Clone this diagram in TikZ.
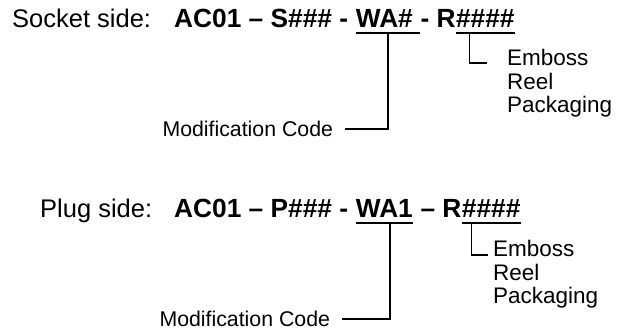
\documentclass[tikz,border=0pt]{standalone}
\usepackage{fontspec}
\setmainfont{Liberation Sans}
\usetikzlibrary{calc}
\tikzset{
  lbl/.style={inner sep=0pt, font=\fontsize{25.5}{30}\selectfont},
  code/.style={inner sep=0pt, anchor=base west, font=\fontsize{26.3}{30}\selectfont\bfseries},
  note/.style={inner sep=0pt, anchor=base west, font=\fontsize{22.5}{24}\selectfont},
  modnote/.style={inner ysep=0pt, inner xsep=0pt, outer xsep=12pt, anchor=east, font=\fontsize{21.3}{24}\selectfont},
  uline/.style={line width=2pt},
  conn/.style={line width=1.3pt},
}
\begin{document}
\begin{tikzpicture}[x=1pt,y=-1pt]
\useasboundingbox (0,0) rectangle (619,334);
% ---------- Socket side ----------
\node[lbl, anchor=base west] (sock) at (12,28) {Socket side:};
\node[code] (s1) at (174,28) {AC01 – S\#\#\# -\ \null};
\node[code] (swa) at (s1.base east) {WA\#\ \null};
\node[code] (s2) at (swa.base east) {- R};
\node[code] (sr) at (s2.base east) {\#\#\#\#};
\coordinate (swaL) at ($(swa.base west)+(0,5.5)$);
\coordinate (swaR) at ($(swa.base east)+(0,5.5)$);
\coordinate (srL) at ($(sr.base west)+(0,5.5)$);
\coordinate (srR) at ($(sr.base east)+(0,5.5)$);
\draw[uline] (swaL) -- (swaR);
\draw[uline] (srL) -- (srR);
\coordinate (swaM) at ($(swaL)!0.5!(swaR)$);
\node[modnote] (smod) at (345,129) {Modification Code};
\draw[conn] (swaM) |- (smod.east);
\node[note] (semb) at (507,66) {Emboss};
\node[note] (sreel) at (507,90) {Reel};
\node[note] (spack) at (507,113) {Packaging};
\coordinate (sbr) at ($(srL)+(14,0)$);
\coordinate (sbrE) at (487,63);
\draw[conn] (sbr) |- (sbrE);
% ---------- Plug side ----------
\node[lbl, anchor=base west] (plug) at (40,218) {Plug side:};
\node[code] (p1) at (174,218) {AC01 – P\#\#\# -\ \null};
\node[code] (pwa) at (p1.base east) {WA1};
\node[code] (p2) at (pwa.base east) {\null\ – R};
\node[code] (pr) at (p2.base east) {\#\#\#\#};
\coordinate (pwaL) at ($(pwa.base west)+(0,5.5)$);
\coordinate (pwaR) at ($(pwa.base east)+(0,5.5)$);
\coordinate (prL) at ($(pr.base west)+(0,5.5)$);
\coordinate (prR) at ($(pr.base east)+(0,5.5)$);
\draw[uline] (pwaL) -- (pwaR);
\draw[uline] (prL) -- (prR);
\coordinate (pwaM) at ($(pwaL)!0.6!(pwaR)$);
\node[modnote] (pmod) at (342,319) {Modification Code};
\draw[conn] (pwaM) |- (pmod.east);
\node[note] (pemb) at (493,256) {Emboss};
\node[note] (preel) at (493,280) {Reel};
\node[note] (ppack) at (493,303) {Packaging};
\coordinate (pbr) at ($(prL)+(10,0)$);
\coordinate (pbrE) at (488,255);
\draw[conn] (pbr) |- (pbrE);
\end{tikzpicture}
\end{document}
